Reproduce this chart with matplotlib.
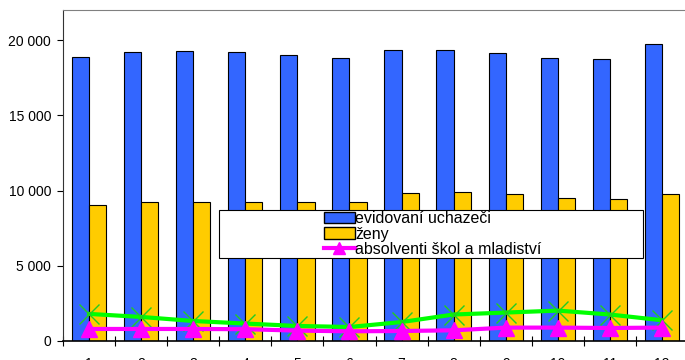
import matplotlib
matplotlib.use("Agg")
import matplotlib.pyplot as plt
import numpy as np
from matplotlib.patches import Patch, Rectangle
from matplotlib.lines import Line2D

plt.rcParams['font.family'] = ['Liberation Sans', 'DejaVu Sans']

# data
mesice = ['1', '2', '3', '4', '5', '6', '7', '8', '9', '10', '11', '12']
uchazeci = [18880, 19190, 19280, 19190, 19030, 18790, 19320, 19330, 19160, 18810, 18720, 19720]
zeny = [9030, 9210, 9250, 9230, 9250, 9270, 9810, 9910, 9740, 9510, 9430, 9760]
zelena = [1800, 1600, 1330, 1160, 1000, 930, 1260, 1760, 1890, 2020, 1760, 1380]
absolventi = [800, 800, 800, 785, 690, 645, 665, 710, 890, 890, 865, 890]
y_ticks = [0, 5000, 10000, 15000, 20000]
y_labels = ['0', '5 000', '10 000', '15 000', '20 000']

fig = plt.figure(figsize=(6.85, 3.6), dpi=100)
# plot area runs a little past the right edge of the picture
ax = fig.add_axes([63/685, 1 - 341/360, (688 - 63)/685, (341 - 10)/360])

x = np.arange(len(mesice))
w = 0.33
ax.bar(x - w/2, uchazeci, w, color='#3366FF', edgecolor='black', linewidth=0.8, zorder=2)
ax.bar(x + w/2, zeny, w, color='#FFCC00', edgecolor='black', linewidth=0.8, zorder=2)
ax.plot(x, zelena, color='#00FF00', linewidth=3, marker='x', markersize=14,
        markeredgewidth=1, markeredgecolor='#22CC22', zorder=3)
ax.plot(x, absolventi, color='#FF00FF', linewidth=3, marker='^', markersize=12, zorder=4)

ax.set_xlim(-0.5, len(mesice) - 0.5)
ax.set_ylim(0, 22000)
ax.set_yticks(y_ticks)
ax.set_yticklabels(y_labels)
ax.set_xticks(x)
ax.set_xticklabels(mesice)
ax.set_xticks(np.arange(len(mesice) + 1) - 0.5, minor=True)
ax.tick_params(axis='x', which='major', length=0, pad=11.5, labelsize=10)
ax.tick_params(axis='x', which='minor', direction='inout', length=7, width=0.8)
ax.tick_params(axis='y', direction='out', length=4.5, width=0.8, pad=4, labelsize=10)

ax.spines['top'].set_color('#808080')
ax.spines['right'].set_color('#808080')
ax.spines['left'].set_color('#333333')
ax.spines['bottom'].set_linewidth(1.2)

# legend frame (wider than its entries)
frame = Rectangle((219/685, 1 - 258/360), (643 - 219)/685, (258 - 210)/360,
                  transform=fig.transFigure, facecolor='white', edgecolor='black',
                  linewidth=0.8, zorder=5)
fig.patches.append(frame)

handles = [Patch(facecolor='#3366FF', edgecolor='black'),
           Patch(facecolor='#FFCC00', edgecolor='black'),
           Line2D([], [], color='#FF00FF', linewidth=3, marker='^', markersize=9)]
leg = fig.legend(handles, ['evidovaní uchazeči', 'ženy', 'absolventi škol a mladiství'],
                 loc='center', bbox_to_anchor=(433/685, 1 - 234/360), frameon=False,
                 fontsize=11.5, handlelength=1.9, handletextpad=0.05,
                 labelspacing=0.02, borderpad=0)
leg.set_zorder(6)

fig.savefig('out.png', dpi=100)
